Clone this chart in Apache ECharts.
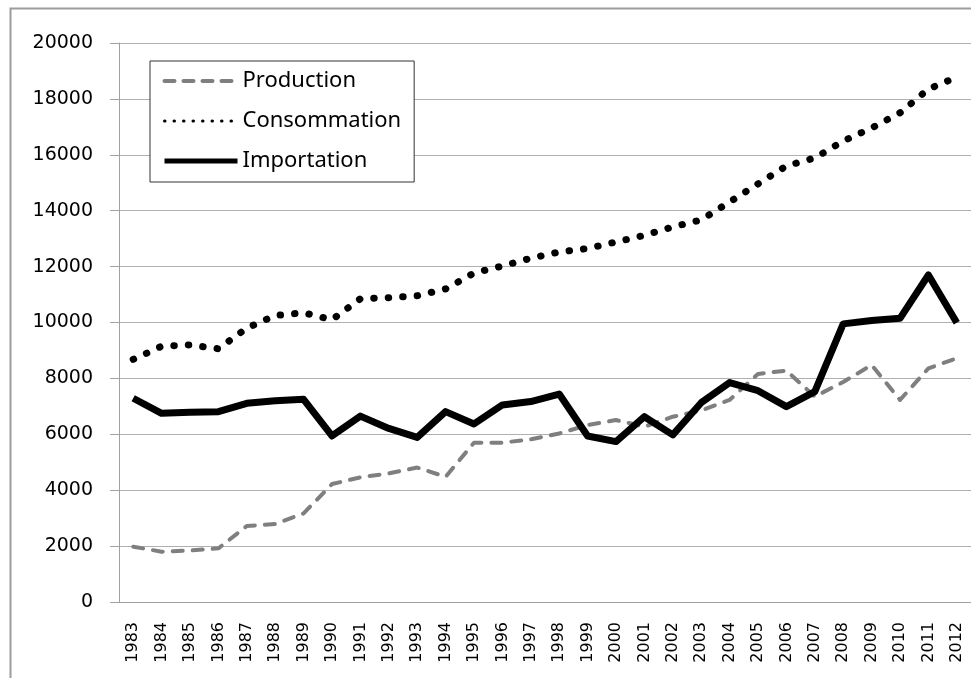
<!DOCTYPE html>
<html>
<head>
<meta charset="utf-8">
<script src="https://cdn.jsdelivr.net/npm/echarts@6/dist/echarts.min.js"></script>
<style>
html, body { margin: 0; padding: 0; background: #fff; }
#chart { width: 971px; height: 678px; }
</style>
</head>
<body>
<div id="chart"></div>
<script>
var years = ['1983', '1984', '1985', '1986', '1987', '1988', '1989', '1990', '1991', '1992',
  '1993', '1994', '1995', '1996', '1997', '1998', '1999', '2000', '2001', '2002',
  '2003', '2004', '2005', '2006', '2007', '2008', '2009', '2010', '2011', '2012']
var production = [1980, 1800, 1840, 1920, 2720, 2790, 3170, 4220, 4460, 4600,
  4810, 4480, 5700, 5700, 5820, 6030, 6330, 6510, 6270, 6630,
  6850, 7230, 8160, 8280, 7350, 7870, 8480, 7230, 8360, 8720]
var consommation = [8680, 9150, 9200, 9060, 9800, 10250, 10350, 10100, 10850, 10890,
  10960, 11200, 11770, 12020, 12300, 12520, 12650, 12880, 13120, 13420,
  13670, 14310, 14960, 15600, 15890, 16490, 16960, 17500, 18350, 18780]
var importation = [7290, 6750, 6790, 6810, 7110, 7200, 7250, 5940, 6650, 6210,
  5890, 6810, 6370, 7050, 7170, 7440, 5940, 5740, 6630, 5980,
  7130, 7850, 7560, 6990, 7530, 9950, 10070, 10150, 11700, 9990]

var chart = echarts.init(document.getElementById('chart'), null, { renderer: 'canvas' })
chart.setOption({
  animation: false,
  backgroundColor: '#fff',
  graphic: [{
    type: 'rect',
    left: 8,
    top: 6,
    shape: { width: 1000, height: 700 },
    style: { fill: 'none', stroke: '#9c9c9c', lineWidth: 2 },
    z: -1
  }],
  legend: {
    orient: 'vertical',
    left: 150,
    top: 61,
    padding: [8, 13, 9, 12],
    itemGap: 16,
    itemWidth: 73,
    itemHeight: 24,
    borderColor: '#333',
    borderWidth: 1,
    backgroundColor: '#fff',
    itemStyle: { opacity: 0 },
    textStyle: {
      fontFamily: 'Noto Sans',
      fontSize: 22,
      color: '#000',
      lineHeight: 24,
      padding: [0, 0, 0, 0]
    },
    data: [
      { name: 'Production', lineStyle: { width: 4, type: [10, 9], cap: 'round' }, itemStyle: { opacity: 0 } },
      { name: 'Consommation', lineStyle: { width: 3, type: [0.5, 9], cap: 'round' }, itemStyle: { opacity: 0 } },
      { name: 'Importation', lineStyle: { width: 5 }, itemStyle: { opacity: 0 } }
    ]
  },
  grid: {
    left: 119,
    top: 43,
    right: -9,
    bottom: 76
  },
  xAxis: {
    type: 'category',
    data: years,
    boundaryGap: true,
    axisLine: { lineStyle: { color: '#a0a0a0', width: 1 } },
    axisTick: { length: 7, lineStyle: { color: '#a0a0a0' } },
    axisLabel: {
      rotate: 90,
      margin: 20,
      interval: 0,
      fontFamily: 'DejaVu Sans',
      fontSize: 16,
      color: '#000'
    },
    splitLine: { show: false }
  },
  yAxis: {
    type: 'value',
    min: 0,
    max: 20000,
    interval: 2000,
    axisLine: { show: true, lineStyle: { color: '#a0a0a0', width: 1 } },
    axisTick: { show: true, length: 9, lineStyle: { color: '#a0a0a0' } },
    axisLabel: {
      margin: 26,
      fontFamily: 'DejaVu Sans',
      fontSize: 19,
      color: '#000',
      formatter: function (v) { return String(v) }
    },
    splitLine: { lineStyle: { color: '#b0b0b0', width: 1 } }
  },
  series: [
    {
      name: 'Production',
      type: 'line',
      data: production,
      symbol: 'none',
      color: '#7f7f7f',
      lineStyle: { color: '#7f7f7f', width: 4, type: [10, 10], cap: 'round', join: 'round' }
    },
    {
      name: 'Consommation',
      type: 'line',
      data: consommation,
      symbol: 'none',
      color: '#000',
      lineStyle: { color: '#000', width: 7, type: [0.5, 14], cap: 'round', join: 'round' }
    },
    {
      name: 'Importation',
      type: 'line',
      data: importation,
      symbol: 'none',
      color: '#000',
      lineStyle: { color: '#000', width: 7, join: 'round' }
    }
  ]
})
</script>
</body>
</html>
